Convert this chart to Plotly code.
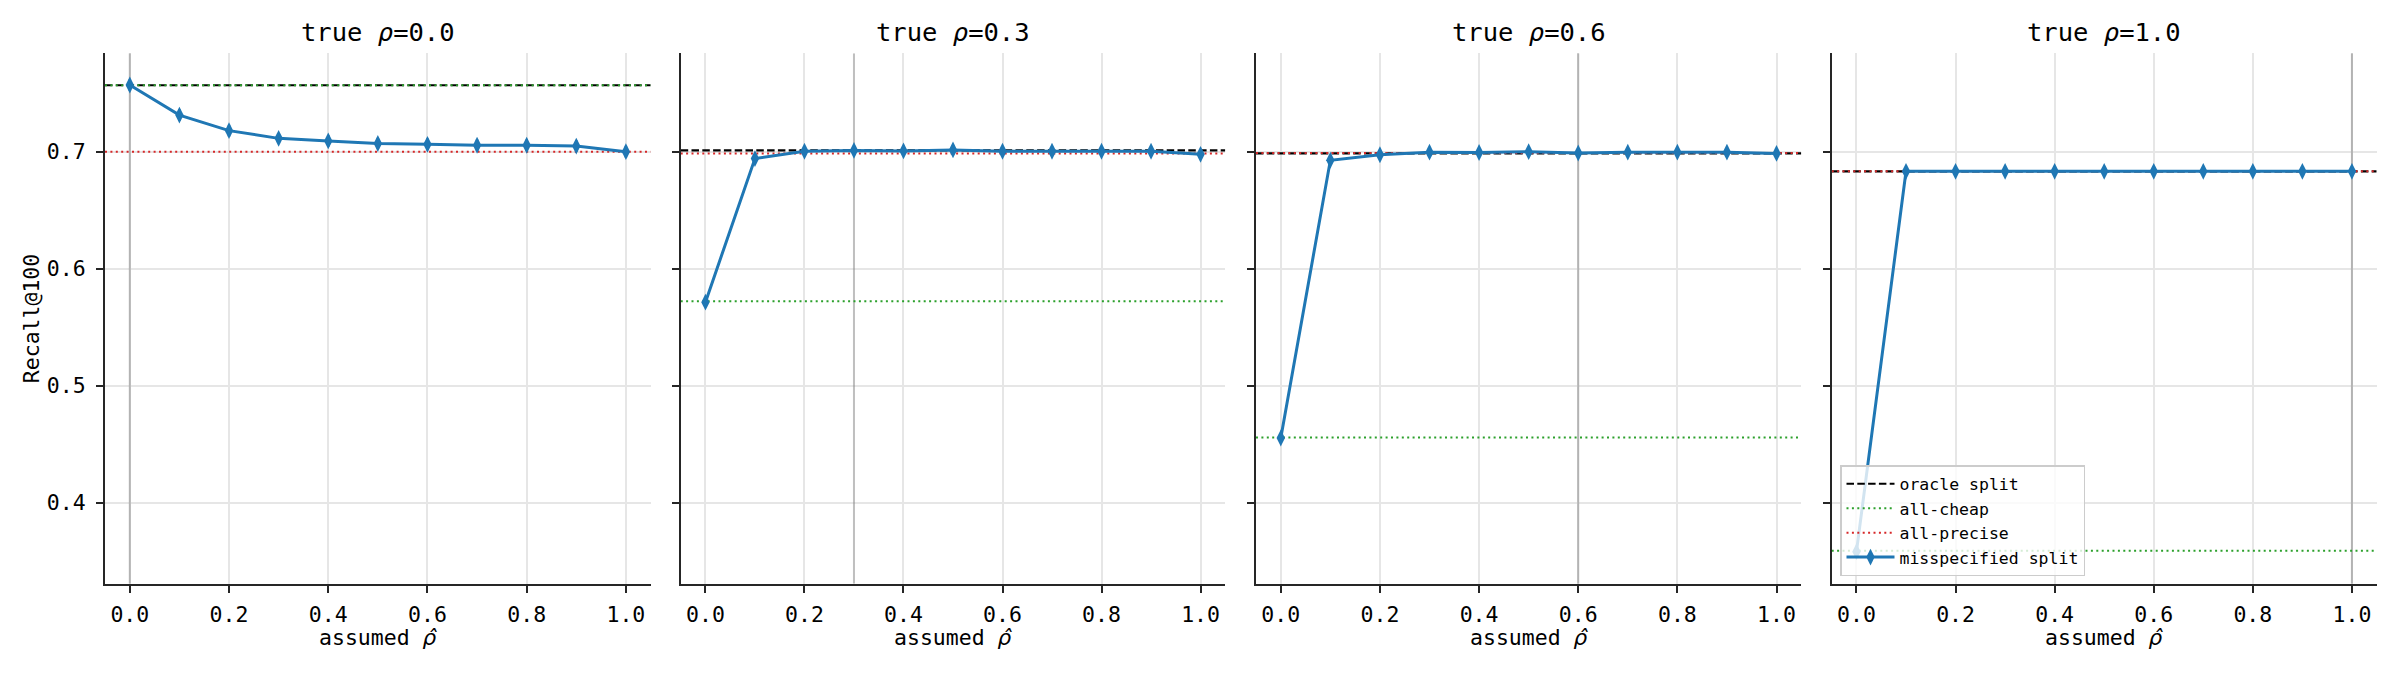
import plotly.graph_objects as go

# ---------------- data ----------------
assumed_rho = [0.0, 0.1, 0.2, 0.3, 0.4, 0.5, 0.6, 0.7, 0.8, 0.9, 1.0]
true_rho = [0.0, 0.3, 0.6, 1.0]
panel_titles = ["true <i>ρ</i>=0.0", "true <i>ρ</i>=0.3", "true <i>ρ</i>=0.6", "true <i>ρ</i>=1.0"]

misspec_r00 = [0.7570, 0.7313, 0.7180, 0.7114, 0.7092, 0.7070, 0.7063, 0.7055, 0.7055, 0.7048, 0.7000]
misspec_r03 = [0.5714, 0.6941, 0.7004, 0.7011, 0.7007, 0.7015, 0.7004, 0.7004, 0.7004, 0.7004, 0.6978]
misspec_r06 = [0.4553, 0.6927, 0.6974, 0.6996, 0.6993, 0.7000, 0.6989, 0.6996, 0.6996, 0.6996, 0.6985]
misspec_r10 = [0.3582, 0.6832, 0.6832, 0.6832, 0.6832, 0.6832, 0.6832, 0.6832, 0.6832, 0.6832, 0.6832]

err_r00 = [0.005, 0.005, 0.005, 0.004, 0.005, 0.005, 0.005, 0.005, 0.005, 0.005, 0.005]
err_r03 = [0.004, 0.004, 0.004, 0.004, 0.004, 0.004, 0.004, 0.004, 0.004, 0.004, 0.004]
err_r06 = [0.003, 0.003, 0.003, 0.003, 0.003, 0.003, 0.003, 0.003, 0.003, 0.003, 0.003]
err_r10 = [0.003, 0.003, 0.003, 0.003, 0.003, 0.003, 0.003, 0.003, 0.003, 0.003, 0.003]

oracle_split = [0.7568, 0.7011, 0.6985, 0.6832]
all_cheap = [0.7568, 0.5722, 0.4557, 0.3590]
all_precise = [0.7000, 0.6985, 0.6989, 0.6832]

x_ticks = [0.0, 0.2, 0.4, 0.6, 0.8, 1.0]
y_ticks = [0.4, 0.5, 0.6, 0.7]

misspec = [misspec_r00, misspec_r03, misspec_r06, misspec_r10]
errs = [err_r00, err_r03, err_r06, err_r10]

# ---------------- style ----------------
W, H = 2400, 675
FONT = "DejaVu Sans Mono"
BLUE = "#1f77b4"
GREEN = "#2ca02c"
RED = "#d62728"
SPINE = "#262626"
DASH = "7.5px,3.3px"
DOT = "2px,3.4px"

px_left = [105, 680.7, 1256, 1831.7]
px_right = [650.7, 1225.3, 1801.3, 2376.7]
py_top, py_bottom = 53.3, 583.7
x_range = [-0.05, 1.05]
y_range = [0.3308, 0.7841]

fig = go.Figure()

for i in range(4):
    xa = "x" if i == 0 else f"x{i+1}"
    ya = "y" if i == 0 else f"y{i+1}"
    last = (i == 3)
    fig.add_trace(go.Scatter(x=[true_rho[i], true_rho[i]], y=y_range, xaxis=xa, yaxis=ya, mode="lines",
                             line=dict(color="rgba(128,128,128,0.5)", width=2),
                             showlegend=False, hoverinfo="skip"))
    fig.add_trace(go.Scatter(x=x_range, y=[oracle_split[i]] * 2, xaxis=xa, yaxis=ya, mode="lines",
                             line=dict(color="black", width=2.2, dash=DASH),
                             name="oracle split", showlegend=last, legendrank=1))
    fig.add_trace(go.Scatter(x=x_range, y=[all_cheap[i]] * 2, xaxis=xa, yaxis=ya, mode="lines",
                             line=dict(color=GREEN, width=2, dash=DOT),
                             name="all-cheap", showlegend=last, legendrank=2))
    fig.add_trace(go.Scatter(x=x_range, y=[all_precise[i]] * 2, xaxis=xa, yaxis=ya, mode="lines",
                             line=dict(color=RED, width=2, dash=DOT),
                             name="all-precise", showlegend=last, legendrank=3))
    fig.add_trace(go.Scatter(
        x=assumed_rho, y=misspec[i], xaxis=xa, yaxis=ya,
        mode="lines+markers",
        line=dict(color=BLUE, width=3),
        marker=dict(symbol="diamond-tall", size=12, color=BLUE),
        error_y=dict(type="data", array=errs[i], visible=True, color=BLUE, thickness=2.5, width=0),
        name="misspecified split", showlegend=last, legendrank=4,
    ))

annotations = []
for i in range(4):
    cx = (px_left[i] + px_right[i]) / 2 / W
    annotations.append(dict(text=panel_titles[i], x=cx, y=1 - 32 / H, xref="paper", yref="paper",
                            xanchor="center", yanchor="middle", showarrow=False,
                            font=dict(family=FONT, size=25.5, color="black")))
    annotations.append(dict(text="assumed <span style=\"font-family:'DejaVu Sans'\"><i>ρ̂</i></span>",
                            x=cx, y=1 - 637 / H, xref="paper", yref="paper",
                            xanchor="center", yanchor="middle", showarrow=False,
                            font=dict(family=FONT, size=21.5, color="black")))

annotations.append(dict(text="Recall@100", x=31.7 / W, y=1 - ((py_top + py_bottom) / 2) / H,
                        xref="paper", yref="paper", xanchor="center", yanchor="middle",
                        textangle=-90, showarrow=False,
                        font=dict(family=FONT, size=21.5, color="black")))

layout = dict(
    width=W, height=H,
    margin=dict(l=0, r=0, t=0, b=0),
    paper_bgcolor="white", plot_bgcolor="white",
    font=dict(family=FONT, size=21.5, color="black"),
    annotations=annotations,
    legend=dict(x=1840 / W, y=1 - 576 / H, xanchor="left", yanchor="bottom",
                bgcolor="rgba(255,255,255,0.8)", bordercolor="#cccccc", borderwidth=1.5,
                font=dict(family=FONT, size=16.5, color="black"),
                tracegroupgap=0, itemwidth=48),
)

for i in range(4):
    xk = "xaxis" if i == 0 else f"xaxis{i+1}"
    yk = "yaxis" if i == 0 else f"yaxis{i+1}"
    layout[xk] = dict(
        domain=[px_left[i] / W, px_right[i] / W], range=x_range, anchor="y" if i == 0 else f"y{i+1}",
        tickvals=x_ticks, ticktext=[f"{v:.1f}" for v in x_ticks],
        showgrid=True, gridcolor="#e6e6e6", gridwidth=1.5,
        showline=True, linecolor=SPINE, linewidth=2,
        ticks="outside", ticklen=7, tickwidth=2, tickcolor=SPINE,
        tickfont=dict(family=FONT, size=21.5, color="black"),
        zeroline=False, mirror=False, ticklabelstandoff=3,
    )
    layout[yk] = dict(
        domain=[1 - py_bottom / H, 1 - py_top / H], range=y_range, anchor="x" if i == 0 else f"x{i+1}",
        tickvals=y_ticks, ticktext=[f"{v:.1f}" for v in y_ticks], showticklabels=(i == 0),
        showgrid=True, gridcolor="#e6e6e6", gridwidth=1.5,
        showline=True, linecolor=SPINE, linewidth=2,
        ticks="outside", ticklen=7, tickwidth=2, tickcolor=SPINE,
        tickfont=dict(family=FONT, size=21.5, color="black"),
        zeroline=False, mirror=False, ticklabelstandoff=6,
    )

fig.update_layout(**layout)
fig.write_html("out.html")
